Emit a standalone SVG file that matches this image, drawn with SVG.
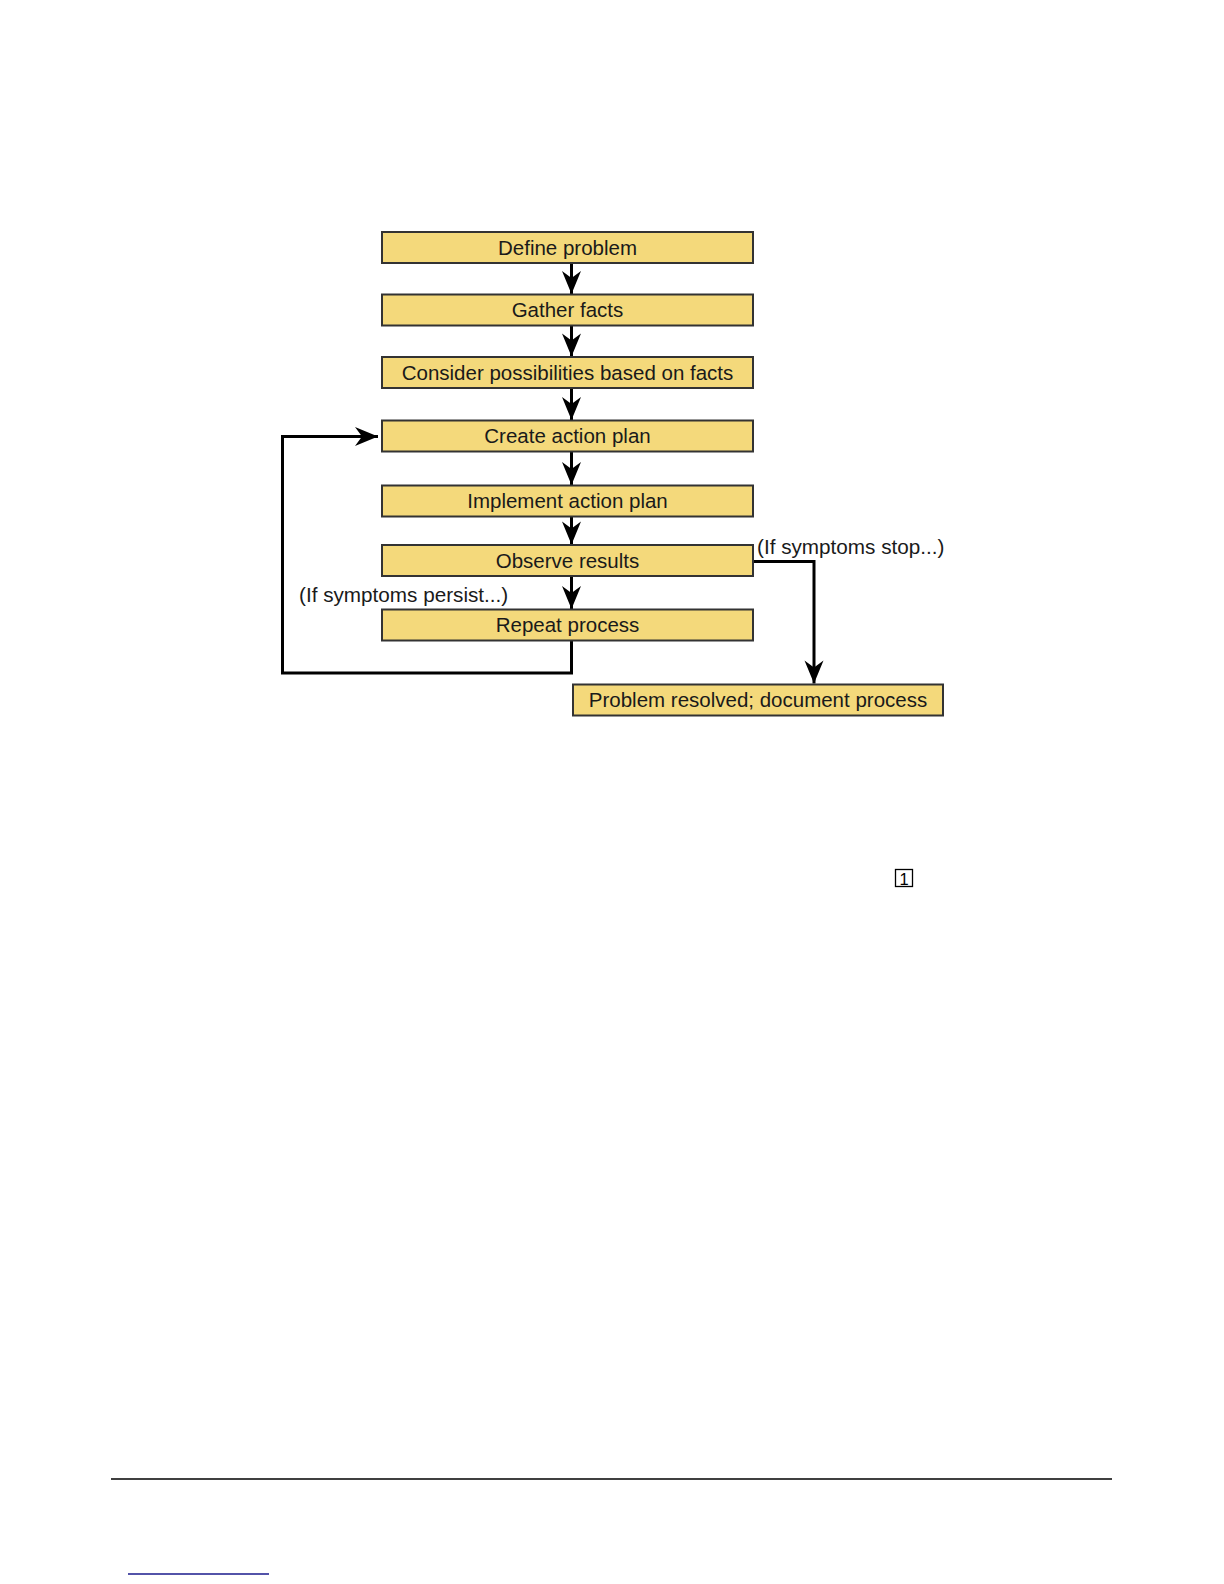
<svg xmlns="http://www.w3.org/2000/svg" width="1224" height="1584" viewBox="0 0 1224 1584">
<style>
.box{fill:#F4D97B;stroke:#333333;stroke-width:2}
.t{font-family:"Liberation Sans",Arial,sans-serif;font-size:20.5px;fill:#1a1a1a;text-anchor:middle}
.lbl{font-family:"Liberation Sans",Arial,sans-serif;font-size:20.7px;fill:#1a1a1a}
.c{fill:none;stroke:#000000;stroke-width:3}
</style>
<defs>
<marker id="ah" markerUnits="userSpaceOnUse" markerWidth="30" markerHeight="24" viewBox="-25 -12 30 24" refX="0" refY="0" orient="auto">
<path d="M0,0 L-23,-9.5 L-16,0 L-23,9.5 Z" fill="#000000"/>
</marker>
</defs>
<rect width="1224" height="1584" fill="#ffffff"/>
<g id="connectors">
<path class="c" d="M571.5,263 V294" marker-end="url(#ah)"/>
<path class="c" d="M571.5,325.5 V356.5" marker-end="url(#ah)"/>
<path class="c" d="M571.5,388 V420" marker-end="url(#ah)"/>
<path class="c" d="M571.5,451.5 V485" marker-end="url(#ah)"/>
<path class="c" d="M571.5,516.5 V544.5" marker-end="url(#ah)"/>
<path class="c" d="M571.5,576 V609" marker-end="url(#ah)"/>
<path class="c" d="M571.5,640.5 V673 H282.5 V436.5 H378" marker-end="url(#ah)"/>
<path class="c" d="M753,561.5 H814 V683.5" marker-end="url(#ah)"/>
</g>
<g id="n1"><rect class="box" x="382" y="232" width="371" height="31"/><text class="t" x="567.5" y="254.5">Define problem</text></g>
<g id="n2"><rect class="box" x="382" y="294.5" width="371" height="31"/><text class="t" x="567.5" y="317">Gather facts</text></g>
<g id="n3"><rect class="box" x="382" y="357" width="371" height="31"/><text class="t" x="567.5" y="379.5">Consider possibilities based on facts</text></g>
<g id="n4"><rect class="box" x="382" y="420.5" width="371" height="31"/><text class="t" x="567.5" y="443">Create action plan</text></g>
<g id="n5"><rect class="box" x="382" y="485.5" width="371" height="31"/><text class="t" x="567.5" y="508">Implement action plan</text></g>
<g id="n6"><rect class="box" x="382" y="545" width="371" height="31"/><text class="t" x="567.5" y="567.5">Observe results</text></g>
<g id="n7"><rect class="box" x="382" y="609.5" width="371" height="31"/><text class="t" x="567.5" y="632">Repeat process</text></g>
<g id="n8"><rect class="box" x="573" y="684.5" width="370" height="31"/><text class="t" x="758" y="707">Problem resolved; document process</text></g>
<g id="labels">
<text class="lbl" x="757" y="554">(If symptoms stop...)</text>
<text class="lbl" x="299" y="602">(If symptoms persist...)</text>
</g>
<g id="ref1">
<rect x="895.5" y="869.5" width="17" height="17" fill="none" stroke="#000000" stroke-width="1.3"/>
<text x="904" y="884.5" font-family="'Liberation Sans',Arial,sans-serif" font-size="16.5" text-anchor="middle" fill="#000000">1</text>
</g>
<line x1="111" y1="1479" x2="1112" y2="1479" stroke="#000000" stroke-width="1.5"/>
<line x1="128" y1="1574" x2="269" y2="1574" stroke="#1a1a8c" stroke-width="1.5"/>
</svg>
